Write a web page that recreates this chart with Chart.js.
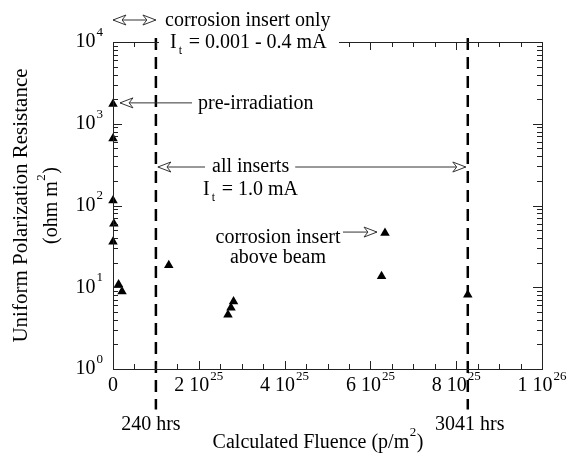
<!DOCTYPE html>
<html>
<head>
<meta charset="utf-8">
<script src="https://cdn.jsdelivr.net/npm/chart.js@4/dist/chart.umd.min.js"></script>
<style>
  html, body { margin: 0; padding: 0; background: #fff; }
</style>
</head>
<body>
<canvas id="myChart" width="568" height="456"></canvas>
<script>
// 측정값 (p/m2, ohm m2)
var fluence    = [0, 0, 0, 0.02e25, 0, 0.13e25, 0.21e25, 1.30e25, 2.68e25, 2.75e25, 2.81e25, 6.34e25, 6.26e25, 8.27e25];
var resistance = [1750, 660, 115, 60, 36, 10.8, 8.9, 18.6, 4.6, 5.6, 6.7, 46, 13.6, 8.1];

// 240 hrs / 3041 hrs 경계선
var markerFluence = [1.0e25, 8.27e25];
var markerSpan = [11200, 0.32];

// 축 눈금
var xTicks = [0, 2e25, 4e25, 6e25, 8e25, 1e26];
var xTickText = ['0', '2 10', '4 10', '6 10', '8 10', '1 10'];
var xTickExp = ['', '25', '25', '25', '25', '26'];
var yTicks = [1, 10, 100, 1000, 10000];
var yTickText = ['10', '10', '10', '10', '10'];
var yTickExp = ['0', '1', '2', '3', '4'];

var serif = '"Liberation Serif", "Times New Roman", serif';
Chart.defaults.font.family = serif;

function pts(xs, ys) {
  return xs.map(function (x, i) { return { x: x, y: ys[i] }; });
}

function supText(ctx, base, exp, x, y, align, size) {
  var small = Math.round(size * 0.65);
  ctx.font = size + 'px ' + serif;
  var bw = ctx.measureText(base).width;
  ctx.font = small + 'px ' + serif;
  var ew = exp ? ctx.measureText(exp).width + 1 : 0;
  var total = bw + ew;
  var left = align === 'center' ? x - total / 2 : (align === 'right' ? x - total : x);
  ctx.textAlign = 'left';
  ctx.textBaseline = 'middle';
  ctx.font = size + 'px ' + serif;
  ctx.fillText(base, left, y);
  if (exp) {
    ctx.font = small + 'px ' + serif;
    ctx.fillText(exp, left + bw + 1, y - size * 0.48);
  }
  return left + total;
}

function openHead(ctx, tipX, tipY, dir) {
  var len = 13, half = 5;
  ctx.beginPath();
  ctx.moveTo(tipX, tipY);
  ctx.lineTo(tipX - dir * len, tipY - half);
  ctx.lineTo(tipX - dir * len * 0.7, tipY);
  ctx.lineTo(tipX - dir * len, tipY + half);
  ctx.closePath();
  ctx.fillStyle = '#fff';
  ctx.fill();
  ctx.stroke();
}

function arrow(ctx, fromX, toX, y, heads) {
  ctx.beginPath();
  ctx.moveTo(fromX, y);
  ctx.lineTo(toX, y);
  ctx.stroke();
  var dir = toX > fromX ? 1 : -1;
  openHead(ctx, toX, y, dir);
  if (heads === 2) openHead(ctx, fromX, y, -dir);
}

function itLabel(ctx, x, baseline, rest) {
  ctx.textAlign = 'left';
  ctx.textBaseline = 'alphabetic';
  ctx.font = '20px ' + serif;
  ctx.fillText('I', x, baseline);
  var iw = ctx.measureText('I').width;
  ctx.font = '12px ' + serif;
  ctx.fillText('t', x + iw + 2, baseline + 6);
  ctx.font = '20px ' + serif;
  ctx.fillText(rest, x + iw + 12, baseline);
}

var framePlugin = {
  id: 'frame',
  afterDraw: function (chart) {
    var ctx = chart.ctx;
    var xs = chart.scales.x, ys = chart.scales.y;
    var a = chart.chartArea;
    ctx.save();
    ctx.strokeStyle = '#222';
    ctx.fillStyle = '#000';
    ctx.lineWidth = 1;

    // 테두리
    ctx.strokeRect(a.left + 0.5, a.top + 0.5, a.right - a.left, a.bottom - a.top);

    // x축 눈금 (안쪽)
    ctx.beginPath();
    for (var v = 0; v <= 1e26 + 1; v += 0.5e25) {
      var px = Math.round(xs.getPixelForValue(v)) + 0.5;
      var major = Math.abs(v % 2e25) < 1e20 || Math.abs(v % 2e25 - 2e25) < 1e20;
      var len = major ? 8 : 5;
      ctx.moveTo(px, a.bottom); ctx.lineTo(px, a.bottom - len);
      ctx.moveTo(px, a.top); ctx.lineTo(px, a.top + len);
    }
    // y축 눈금 (log)
    for (var d = 0; d < 4; d++) {
      for (var m = 1; m <= 9; m++) {
        var val = m * Math.pow(10, d);
        var py = Math.round(ys.getPixelForValue(val)) + 0.5;
        var l2 = m === 1 ? 9 : 5;
        ctx.moveTo(a.left, py); ctx.lineTo(a.left + l2, py);
        ctx.moveTo(a.right, py); ctx.lineTo(a.right - l2, py);
      }
    }
    ctx.stroke();

    // 눈금 라벨
    ctx.fillStyle = '#000';
    xTicks.forEach(function (t, i) {
      supText(ctx, xTickText[i], xTickExp[i], xs.getPixelForValue(t), a.bottom + 17, 'center', 20);
    });
    yTicks.forEach(function (t, i) {
      supText(ctx, yTickText[i], yTickExp[i], a.left - 10, ys.getPixelForValue(t), 'right', 20);
    });

    // x축 제목
    ctx.font = '20px ' + serif;
    var cw = ctx.measureText('Calculated Fluence (p/m').width;
    ctx.font = '13px ' + serif;
    var sw = ctx.measureText('2').width;
    ctx.font = '20px ' + serif;
    var pw = ctx.measureText(')').width;
    var tx = 318 - (cw + sw + pw + 1) / 2;
    ctx.textAlign = 'left';
    ctx.textBaseline = 'middle';
    ctx.fillText('Calculated Fluence (p/m', tx, 443);
    ctx.font = '13px ' + serif;
    ctx.fillText('2', tx + cw + 0.5, 433);
    ctx.font = '20px ' + serif;
    ctx.fillText(')', tx + cw + sw + 1, 443);

    // y축 제목
    ctx.save();
    ctx.translate(21, (a.top + a.bottom) / 2);
    ctx.rotate(-Math.PI / 2);
    ctx.font = '21px ' + serif;
    ctx.textAlign = 'center';
    ctx.textBaseline = 'middle';
    ctx.fillText('Uniform Polarization Resistance', 0, 0);
    ctx.restore();

    ctx.save();
    ctx.translate(52, (a.top + a.bottom) / 2);
    ctx.rotate(-Math.PI / 2);
    ctx.font = '20px ' + serif;
    var ow = ctx.measureText('(ohm m').width;
    ctx.font = '13px ' + serif;
    var tw = ctx.measureText('2').width;
    ctx.font = '20px ' + serif;
    var qw = ctx.measureText(')').width;
    var start = -(ow + tw + qw + 1) / 2;
    ctx.textAlign = 'left';
    ctx.textBaseline = 'middle';
    ctx.fillText('(ohm m', start, 0);
    ctx.font = '13px ' + serif;
    ctx.fillText('2', start + ow + 0.5, -10);
    ctx.font = '20px ' + serif;
    ctx.fillText(')', start + ow + tw + 1, 0);
    ctx.restore();

    // 경계선 라벨
    ctx.textAlign = 'center';
    ctx.textBaseline = 'middle';
    ctx.font = '20px ' + serif;
    ctx.fillText('240 hrs', xs.getPixelForValue(markerFluence[0]) - 5, 425);
    ctx.fillText('3041 hrs', xs.getPixelForValue(markerFluence[1]) + 2, 425);

    // 위쪽 주석
    var x0 = xs.getPixelForValue(0);
    var x1 = xs.getPixelForValue(markerFluence[0]);
    var x2 = xs.getPixelForValue(markerFluence[1]);
    ctx.strokeStyle = '#333';
    arrow(ctx, x0, x1, 20, 2);
    ctx.fillStyle = '#000';
    ctx.textAlign = 'left';
    ctx.textBaseline = 'middle';
    ctx.font = '20px ' + serif;
    ctx.fillText('corrosion insert only', 165, 21);

    ctx.fillStyle = '#fff';
    ctx.fillRect(159, a.top - 4, 180, 16);
    ctx.fillStyle = '#000';
    itLabel(ctx, 170, 48, '= 0.001 - 0.4 mA');

    // pre-irradiation
    var yPre = ys.getPixelForValue(resistance[0]) - 1;
    arrow(ctx, 192, x0 + 7, yPre, 1);
    ctx.fillStyle = '#000';
    ctx.textAlign = 'left';
    ctx.textBaseline = 'middle';
    ctx.font = '20px ' + serif;
    ctx.fillText('pre-irradiation', 198, yPre + 1);

    // all inserts
    var yAll = 167;
    ctx.font = '20px ' + serif;
    var aw = ctx.measureText('all inserts').width;
    arrow(ctx, 205, x1 + 2, yAll, 1);
    arrow(ctx, 218 + aw, x2 - 2, yAll, 1);
    ctx.fillStyle = '#000';
    ctx.textAlign = 'left';
    ctx.fillText('all inserts', 212, yAll);
    itLabel(ctx, 203, 195, '= 1.0 mA');

    // corrosion insert above beam
    var yAb = ys.getPixelForValue(resistance[11]) - 1;
    arrow(ctx, 343, xs.getPixelForValue(fluence[11]) - 8, yAb, 1);
    ctx.fillStyle = '#000';
    ctx.textAlign = 'center';
    ctx.textBaseline = 'middle';
    ctx.font = '20px ' + serif;
    ctx.fillText('corrosion insert', 278, 238);
    ctx.fillText('above beam', 278, 258);

    ctx.restore();
  }
};

var chartArea = document.getElementById('myChart').getContext('2d');
var myChart = new Chart(chartArea, {
  type: 'scatter',
  data: {
    datasets: [{
      label: 'Rp',
      data: pts(fluence, resistance),
      pointStyle: 'triangle',
      pointRadius: 5.5,
      pointBackgroundColor: '#000',
      pointBorderColor: '#000',
      pointBorderWidth: 0,
      clip: false,
      order: 1,
    }, {
      label: '240 hrs',
      data: pts([markerFluence[0], markerFluence[0]], markerSpan),
      showLine: true,
      borderColor: '#000',
      borderWidth: 2.5,
      borderDash: [12, 7],
      pointRadius: 0,
      clip: false,
      order: 2,
    }, {
      label: '3041 hrs',
      data: pts([markerFluence[1], markerFluence[1]], markerSpan),
      showLine: true,
      borderColor: '#000',
      borderWidth: 2.5,
      borderDash: [12, 7],
      pointRadius: 0,
      clip: false,
      order: 2,
    }]
  },
  options: {
    responsive: false,
    animation: false,
    events: [],
    layout: {
      padding: { left: 113, right: 26, top: 42, bottom: 87 }
    },
    scales: {
      x: { type: 'linear', display: false, min: 0, max: 1e26 },
      y: { type: 'logarithmic', display: false, min: 1, max: 10000 }
    },
    plugins: {
      legend: { display: false },
      tooltip: { enabled: false }
    }
  },
  plugins: [framePlugin]
});
</script>
</body>
</html>
